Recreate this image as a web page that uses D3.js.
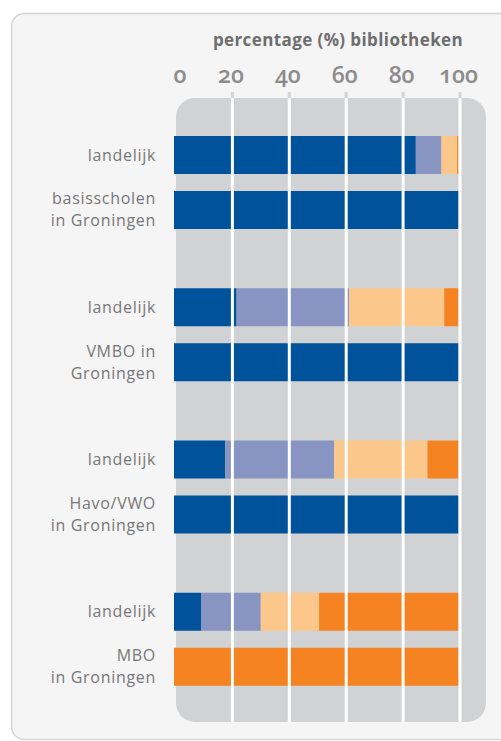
<!DOCTYPE html>
<html>
<head>
<meta charset="utf-8">
<script src="https://cdn.jsdelivr.net/npm/d3@7"></script>
<style>
  body { margin: 0; background: #fff; }
  svg { display: block; font-family: "Open Sans", sans-serif; }
  .tick-label { font-variant-numeric: oldstyle-nums; font-feature-settings: "onum"; }
</style>
</head>
<body>
<svg id="vis" width="501" height="741"></svg>
<script>
// row labels (one entry per bar, lines split)
const rowLabels = [
  ["landelijk"], ["basisscholen", "in Groningen"],
  ["landelijk"], ["VMBO in", "Groningen"],
  ["landelijk"], ["Havo/VWO", "in Groningen"],
  ["landelijk"], ["MBO", "in Groningen"]
];
// percentage per segment, per bar
const seg1 = [85, 100, 22, 100, 18, 100, 9.5, 0];
const seg2 = [9, 0, 39.5, 0, 38.3, 0, 21, 0];
const seg3 = [5.5, 0, 33.5, 0, 32.8, 0, 20.5, 0];
const seg4 = [0.5, 0, 5, 0, 10.9, 0, 49, 100];
const tickValues = [0, 20, 40, 60, 80, 100];
const titleText = "percentage (%) bibliotheken";

const COLOURS = ["#00539b", "#8895c2", "#fcc78b", "#f58321"];

const svg = d3.select("#vis");

// outer panel
svg.append("rect")
  .attr("x", 11.5).attr("y", 13.5)
  .attr("width", 520).attr("height", 726)
  .attr("rx", 13)
  .style("fill", "#f5f5f5")
  .style("stroke", "#d6d6d6")
  .style("stroke-width", 1.5);

const x = d3.scaleLinear().domain([0, 100]).range([174, 458.5]);

const yGroup = d3.scaleBand().domain([0, 1, 2, 3]).range([136, 745]);
const ySub = d3.scaleBand().domain([0, 1]).range([0, 93]).paddingInner(0.309);
const rowY = i => yGroup(Math.floor(i / 2)) + ySub(i % 2);

// gray plot area
svg.append("rect")
  .attr("x", 176).attr("y", 98)
  .attr("width", 310).attr("height", 624)
  .attr("rx", 19)
  .style("fill", "#d1d2d4");

// stacked data
const rows = rowLabels.map((l, i) => ({i: i, a: seg1[i], b: seg2[i], c: seg3[i], d: seg4[i]}));
const stack = d3.stack().keys(["a", "b", "c", "d"])(rows);

svg.append("g").selectAll("g")
  .data(stack)
  .enter().append("g")
  .style("fill", (d, k) => COLOURS[k])
  .selectAll("rect")
  .data(d => d.filter(p => p[1] > p[0]))
  .enter().append("rect")
  .attr("x", d => x(d[0]))
  .attr("width", d => x(d[1]) - x(d[0]))
  .attr("y", d => rowY(d.data.i))
  .attr("height", ySub.bandwidth());

// gridlines on top of the bars
const grid = svg.append("g");
grid.selectAll("line.up")
  .data(tickValues.slice(1))
  .enter().append("line")
  .attr("x1", d => x(d) + 1.5).attr("x2", d => x(d) + 1.5)
  .attr("y1", 92).attr("y2", 99)
  .style("stroke", "#d4d4d4").style("stroke-width", 3);
grid.selectAll("line.main")
  .data(tickValues.slice(1))
  .enter().append("line")
  .attr("x1", d => x(d) + 1.5).attr("x2", d => x(d) + 1.5)
  .attr("y1", 98).attr("y2", 722)
  .style("stroke", "#fff").style("stroke-width", 3);

// tick labels
svg.append("g").selectAll("text")
  .data(tickValues)
  .enter().append("text")
  .attr("class", "tick-label")
  .attr("x", d => d === 0 ? 180 : x(d))
  .attr("y", 83)
  .style("text-anchor", "middle")
  .style("font-size", "23px")
  .style("font-weight", 600)
  .style("fill", "#8c8c8c")
  .text(d => d);

// title
svg.append("text")
  .attr("x", 338).attr("y", 46)
  .style("text-anchor", "middle")
  .style("font-size", "17px")
  .style("font-weight", 700)
  .style("letter-spacing", "0.4px")
  .style("fill", "#6e6e6e")
  .text(titleText);

// row labels, one text element per line
const lab = svg.append("g");
rowLabels.forEach(function(lines, i){
  const cy = rowY(i) + ySub.bandwidth() / 2;
  lines.forEach(function(line, j){
    lab.append("text")
      .attr("x", 156)
      .attr("y", cy + 5.5 + (j - (lines.length - 1) / 2) * 22)
      .style("text-anchor", "end")
      .style("font-size", "16px")
      .style("letter-spacing", "0.7px")
      .style("fill", "#777")
      .text(line);
  });
});
</script>
</body>
</html>
